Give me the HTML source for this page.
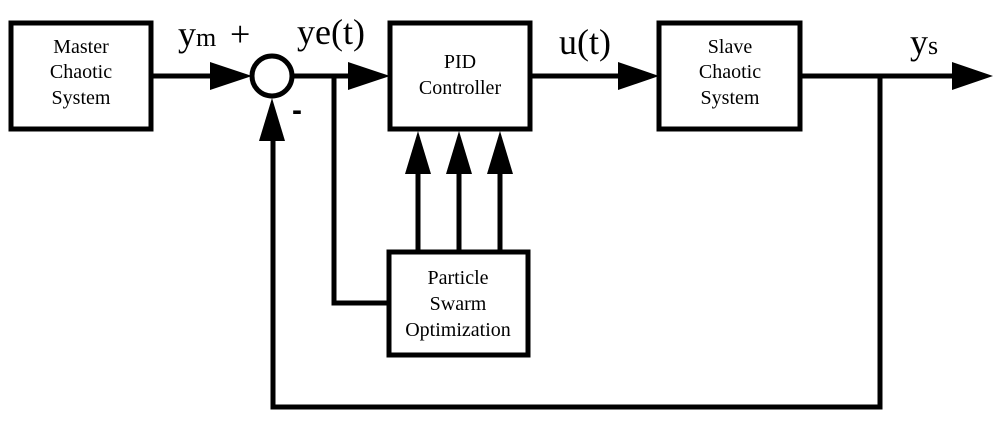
<!DOCTYPE html>
<html><head><style>body{margin:0;background:#fff}</style></head><body>
<svg width="1000" height="417" viewBox="0 0 1000 417" xmlns="http://www.w3.org/2000/svg" font-family="Liberation Serif, serif">
<g fill="none" stroke="#000" stroke-width="5">
<rect x="11" y="23" width="140" height="106"/>
<rect x="390" y="23" width="140" height="106"/>
<rect x="659" y="23" width="141" height="106"/>
<rect x="389" y="252" width="139" height="103"/>
<circle cx="272" cy="76" r="20"/>
<path d="M151 76H212M292 76H350M530 76H622M800 76H955"/>
<path d="M334 76V303H389"/>
<path d="M418 252V170M459 252V170M500 252V170"/>
<path d="M880 76V407H273V139"/>
</g>
<g fill="#000">
<polygon points="210,62 252,76 210,90"/>
<polygon points="348,62 390,76 348,90"/>
<polygon points="618,62 659,76 618,90"/>
<polygon points="952,62 993,76 952,90"/>
<polygon points="259,141 272,98 285,141"/>
<polygon points="405,174 418,131 431,174"/>
<polygon points="446,174 459,131 472,174"/>
<polygon points="487,174 500,131 513,174"/>
</g>
<g font-size="20" text-anchor="middle">
<text x="81" y="53">Master</text><text x="81" y="78">Chaotic</text><text x="81" y="104">System</text>
<text x="460" y="68">PID</text><text x="460" y="94">Controller</text>
<text x="730" y="53">Slave</text><text x="730" y="78">Chaotic</text><text x="730" y="104">System</text>
<text x="458" y="284">Particle</text><text x="458" y="310">Swarm</text><text x="458" y="336">Optimization</text>
</g>
<g font-size="36">
<text x="178" y="46">y<tspan font-size="26">m</tspan></text>
<text x="230" y="46">+</text>
<text x="297" y="44">ye(t)</text>
<text x="559" y="54">u(t)</text>
<text x="910" y="54">y<tspan font-size="26">s</tspan></text>
</g>
<text x="292" y="120" font-size="30" font-family="Liberation Sans, sans-serif" font-weight="bold">-</text>
</svg>
</body></html>
